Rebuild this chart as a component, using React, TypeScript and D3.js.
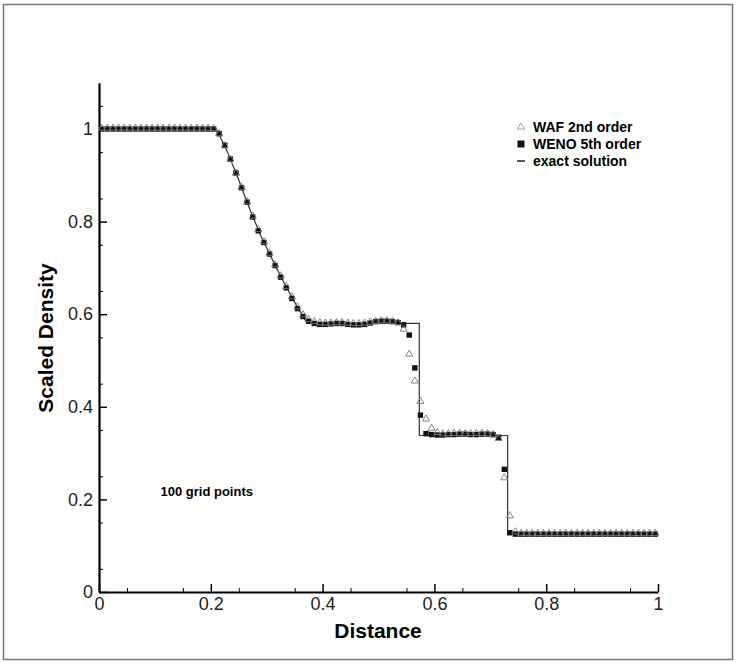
import React, { useEffect, useRef } from "react";
import * as d3 from "d3";

// cell centres of the 100-point grid
const GRID_X = d3.range(100).map(i => (i + 0.5) / 100);

const WENO = [
  1, 1, 1, 1, 1, 1, 1, 1, 1, 1, 1, 1, 1, 1, 1, 1, 1, 1, 1, 1, 1,
  0.99, 0.965, 0.935, 0.905, 0.873, 0.842, 0.81, 0.78, 0.755, 0.73, 0.705, 0.68, 0.657, 0.634, 0.612, 0.595, 0.585, 0.58,
  0.578, 0.578, 0.579, 0.58, 0.58, 0.578, 0.577, 0.577, 0.578, 0.581, 0.584, 0.585, 0.585, 0.584, 0.582, 0.577, 0.555, 0.484, 0.382, 0.342,
  0.34, 0.339, 0.339, 0.34, 0.34, 0.341, 0.341, 0.34, 0.34, 0.341, 0.341, 0.34,
  0.334, 0.265, 0.128,
  0.125, 0.125, 0.125, 0.125, 0.125, 0.125, 0.125, 0.125, 0.125, 0.125, 0.125, 0.125, 0.125,
  0.125, 0.125, 0.125, 0.125, 0.125, 0.125, 0.125, 0.125, 0.125, 0.125, 0.125, 0.125, 0.125,
];

const WAF = [
  1, 1, 1, 1, 1, 1, 1, 1, 1, 1, 1, 1, 1, 1, 1, 1, 1, 1, 1, 1, 0.999,
  0.988, 0.962, 0.933, 0.903, 0.872, 0.841, 0.81, 0.781, 0.755, 0.73, 0.705, 0.681, 0.658, 0.636, 0.614, 0.597, 0.587, 0.582,
  0.58, 0.579, 0.579, 0.58, 0.58, 0.579, 0.578, 0.578, 0.579, 0.581, 0.583, 0.584, 0.584, 0.583, 0.58, 0.566, 0.512, 0.454, 0.41, 0.372,
  0.352, 0.343,
  0.34, 0.34, 0.341, 0.341, 0.34, 0.34, 0.341, 0.341, 0.34, 0.338,
  0.33, 0.245, 0.163, 0.128,
  0.125, 0.125, 0.125, 0.125, 0.125, 0.125, 0.125, 0.125, 0.125, 0.125, 0.125, 0.125, 0.125,
  0.125, 0.125, 0.125, 0.125, 0.125, 0.125, 0.125, 0.125, 0.125, 0.125, 0.125, 0.125,
];

const EXACT_X = [0, 0.21, 0.23, 0.25, 0.27, 0.29, 0.31, 0.33, 0.35, 0.37, 0.374, 0.573, 0.573, 0.731, 0.731, 1];
const EXACT_Y = [1, 1, 0.95, 0.89, 0.826, 0.768, 0.718, 0.67, 0.626, 0.585, 0.58, 0.58, 0.338, 0.338, 0.125, 0.125];

const X_TICKS = [0, 0.2, 0.4, 0.6, 0.8, 1];
const Y_TICKS = [0, 0.2, 0.4, 0.6, 0.8, 1];
const LEGEND = ["WAF 2nd order", "WENO 5th order", "exact solution"];

const W = 737;
const H = 664;
const FONT = "'Liberation Sans', Arial, Helvetica, sans-serif";

export default function App() {
  const ref = useRef<SVGSVGElement>(null);

  useEffect(() => {
    const svg = d3.select(ref.current);
    svg.selectAll("*").remove();

    svg.append("rect")
      .attr("width", W).attr("height", H).attr("fill", "white");
    svg.append("rect")
      .attr("x", 3.5).attr("y", 4.5)
      .attr("width", 729).attr("height", 655)
      .attr("fill", "none").attr("stroke", "#777").attr("stroke-width", 1.5);

    const x = d3.scaleLinear().domain([0, 1]).range([99, 658]);
    const y = d3.scaleLinear().domain([0, 1.1]).range([592, 82.7]);

    // minor ticks
    svg.append("g")
      .attr("transform", `translate(0,${y(0)})`)
      .call(d3.axisBottom(x).tickValues(d3.range(0.05, 1, 0.1).map(v => +v.toFixed(2))).tickSize(-4).tickFormat(() => ""))
      .call(g => g.select(".domain").remove());
    svg.append("g")
      .attr("transform", `translate(${x(0)},0)`)
      .call(d3.axisLeft(y).tickValues(d3.range(0.05, 1.1, 0.1).map(v => +v.toFixed(2))).tickSize(-4).tickFormat(() => ""))
      .call(g => g.select(".domain").remove());

    const xAxis = svg.append("g")
      .attr("transform", `translate(0,${y(0)})`)
      .call(d3.axisBottom(x).tickValues(X_TICKS).tickSizeInner(-8).tickSizeOuter(0).tickPadding(5).tickFormat(d => String(d)));
    xAxis.select(".domain").attr("stroke-width", 2.2);
    xAxis.selectAll(".tick line").attr("stroke-width", 1.5);
    xAxis.selectAll("text").attr("font-family", FONT).attr("font-size", 18).attr("fill", "#222");

    const yAxis = svg.append("g")
      .attr("transform", `translate(${x(0)},0)`)
      .call(d3.axisLeft(y).tickValues(Y_TICKS).tickSizeInner(-8).tickSizeOuter(0).tickPadding(6).tickFormat(d => String(d)));
    yAxis.select(".domain").attr("stroke-width", 2.2);
    yAxis.selectAll(".tick line").attr("stroke-width", 1.5);
    yAxis.selectAll("text").attr("font-family", FONT).attr("font-size", 18).attr("fill", "#222");

    svg.append("text")
      .attr("x", 378).attr("y", 638)
      .attr("text-anchor", "middle")
      .attr("font-family", FONT).attr("font-weight", "bold").attr("font-size", 21)
      .text("Distance");
    svg.append("text")
      .attr("transform", `translate(53,338) rotate(-90)`)
      .attr("text-anchor", "middle")
      .attr("font-family", FONT).attr("font-weight", "bold").attr("font-size", 21)
      .text("Scaled Density");

    svg.append("text")
      .attr("x", x(0.11)).attr("y", y(0.2) - 3)
      .attr("font-family", FONT).attr("font-weight", "bold").attr("font-size", 13)
      .text("100 grid points");

    // exact solution
    const line = d3.line<number>()
      .x((_, i) => x(EXACT_X[i]))
      .y(d => y(d));
    svg.append("path")
      .attr("d", line(EXACT_Y))
      .attr("fill", "none").attr("stroke", "#333").attr("stroke-width", 1.2);

    const tri = d3.symbol().type(d3.symbolTriangle).size(22);

    svg.append("g")
      .selectAll("rect")
      .data(WENO)
      .join("rect")
      .attr("x", (_, i) => x(GRID_X[i]) - 2.7)
      .attr("y", d => y(d) - 2.7)
      .attr("width", 5.4).attr("height", 5.4)
      .attr("fill", "#111");

    svg.append("g")
      .selectAll("path")
      .data(WAF)
      .join("path")
      .attr("transform", (d, i) => `translate(${x(GRID_X[i])},${y(d) - 0.8})`)
      .attr("d", tri)
      .attr("fill", "none")
      .attr("stroke", "#777").attr("stroke-width", 0.9);

    // legend
    const lg = svg.append("g").attr("transform", "translate(521,127)");
    lg.append("path")
      .attr("d", tri)
      .attr("fill", "none").attr("stroke", "#999").attr("stroke-width", 0.9);
    lg.append("rect")
      .attr("x", -3.5).attr("y", 17 - 3.5).attr("width", 7).attr("height", 7).attr("fill", "#111");
    lg.append("line")
      .attr("x1", -4).attr("x2", 4).attr("y1", 34).attr("y2", 34)
      .attr("stroke", "#222").attr("stroke-width", 1.5);
    lg.selectAll("text")
      .data(LEGEND)
      .join("text")
      .attr("x", 12).attr("y", (_, i) => i * 17 + 5)
      .attr("font-family", FONT).attr("font-weight", "bold").attr("font-size", 14)
      .text(d => d);
  }, []);

  return (
    <svg ref={ref} width={W} height={H} style={{ position: "absolute", left: 0, top: 0 }} />
  );
}
